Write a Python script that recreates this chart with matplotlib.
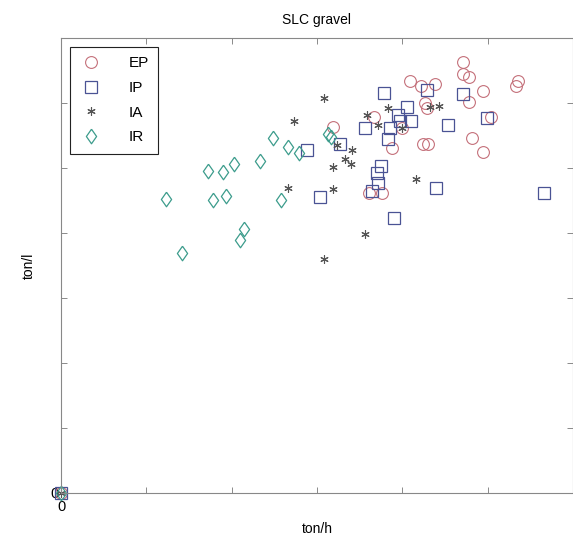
import matplotlib
matplotlib.use("Agg")
import matplotlib.pyplot as plt

plt.rcParams['font.family'] = ['Liberation Sans', 'DejaVu Sans']

# throughput (ton/h) vs specific charge (ton/l) per loading mode
ep_x = [0, 3.19, 3.67, 4.00, 3.88, 4.09, 4.22, 4.38, 4.27, 4.29, 4.24, 4.30, 4.71, 4.71,
        4.78, 4.94, 4.78, 5.04, 4.82, 4.94, 5.35, 5.33, 3.61, 3.76]
ep_y = [0, 5.63, 5.78, 5.62, 5.31, 6.34, 6.26, 6.29, 6.00, 5.92, 5.37, 5.37, 6.63, 6.45,
        6.40, 6.18, 6.02, 5.78, 5.46, 5.25, 6.34, 6.26, 4.62, 4.62]

ip_x = [0, 2.88, 3.04, 3.27, 3.56, 3.78, 3.85, 3.83, 3.95, 3.97, 4.05, 4.10, 4.29, 4.53,
        4.71, 4.99, 3.75, 3.70, 3.72, 3.64, 4.40, 3.90, 5.66]
ip_y = [0, 5.28, 4.55, 5.37, 5.62, 6.15, 5.62, 5.45, 5.82, 5.72, 5.94, 5.72, 6.20, 5.66,
        6.14, 5.77, 5.03, 4.92, 4.77, 4.65, 4.69, 4.23, 4.62]

ia_x = [0, 2.73, 3.08, 2.66, 3.19, 3.19, 3.08, 3.24, 3.41, 3.33, 3.40, 3.59, 3.72, 3.83,
        4.00, 4.33, 4.43, 4.16, 3.56]
ia_y = [0, 5.72, 6.08, 4.69, 5.02, 4.68, 3.60, 5.35, 5.28, 5.14, 5.06, 5.82, 5.66, 5.92,
        5.62, 5.94, 5.95, 4.83, 3.98]

ir_x = [0, 1.23, 1.42, 1.72, 1.78, 1.90, 1.93, 2.03, 2.14, 2.10, 2.33, 2.49, 2.66, 2.79,
        2.58, 3.13, 3.16]
ir_y = [0, 4.52, 3.69, 4.95, 4.51, 4.94, 4.57, 5.06, 4.06, 3.89, 5.11, 5.46, 5.32, 5.23,
        4.51, 5.52, 5.48]

x_ticks = [0, 1, 2, 3, 4, 5, 6]
y_ticks = [0, 1, 2, 3, 4, 5, 6, 7]

fig = plt.figure(figsize=(5.73, 5.37), dpi=100)
ax = fig.add_axes([61 / 573, 44 / 537, 512 / 573, 455 / 537])

diamond = [(0, 1), (0.7, 0), (0, -1), (-0.7, 0), (0, 1)]

ax.plot(ep_x, ep_y, linestyle='none', marker='o', markersize=8.5, mfc='none',
        mec='#c4707a', mew=0.8, label='EP', clip_on=False)
ax.plot(ip_x, ip_y, linestyle='none', marker='s', markersize=8, mfc='none',
        mec='#4a5394', mew=0.9, label='IP', clip_on=False)
ax.plot(ia_x, ia_y, linestyle='none', marker=(6, 2, 0), markersize=6,
        mec='#555555', mew=0.8, label='IA', clip_on=False)
ax.plot(ir_x, ir_y, linestyle='none', marker=diamond, markersize=10.5, mfc='none',
        mec='#3c9c8c', mew=0.9, label='IR', clip_on=False)

ax.set_xlim(0, 6)
ax.set_ylim(0, 7)
ax.set_xticks(x_ticks)
ax.set_xticklabels(['0'] + [''] * (len(x_ticks) - 1))
ax.set_yticks(y_ticks)
ax.set_yticklabels(['0'] + [''] * (len(y_ticks) - 1))
ax.tick_params(direction='in', top=True, right=True, length=4, width=0.6,
               colors='#777777', labelcolor='black', labelsize=10.5)
ax.tick_params(axis='x', pad=5)
ax.tick_params(axis='y', pad=2)
for s in ax.spines.values():
    s.set_color('#888888')
    s.set_linewidth(0.8)

ax.set_title('SLC gravel', fontsize=10, pad=10)
ax.set_xlabel('ton/h', fontsize=10, labelpad=6)
ax.set_ylabel('ton/l', fontsize=10, labelpad=10)

leg = ax.legend(loc='upper left', bbox_to_anchor=(0.018, 0.98), borderaxespad=0,
                fontsize=11, handlelength=1.5, handletextpad=1.7, labelspacing=0.7,
                borderpad=0.6, fancybox=False, framealpha=1)
leg.get_frame().set_edgecolor('#222222')
leg.get_frame().set_linewidth(0.8)

fig.savefig('out.png', dpi=100)
